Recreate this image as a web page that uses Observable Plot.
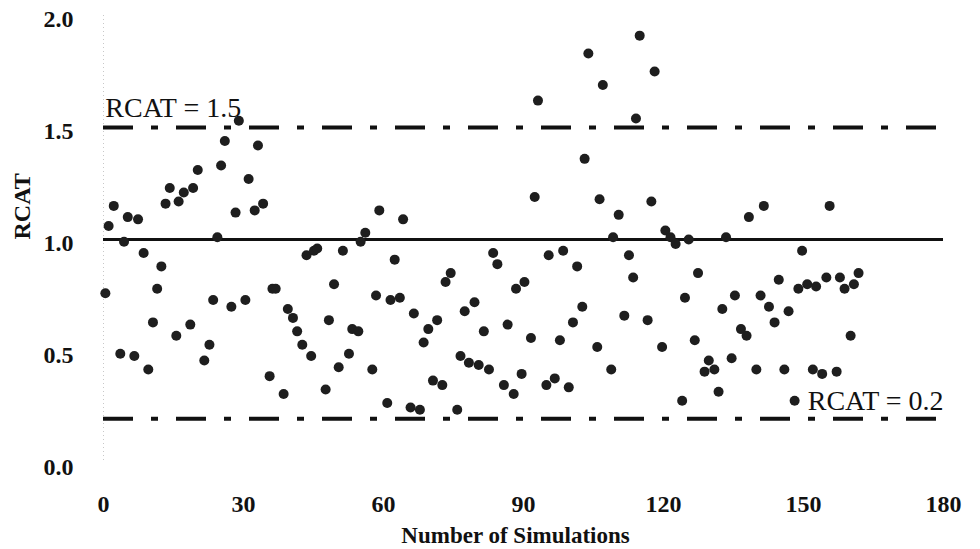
<!DOCTYPE html>
<html>
<head>
<meta charset="utf-8">
<script src="https://cdn.jsdelivr.net/npm/d3@7"></script>
<script src="https://cdn.jsdelivr.net/npm/@observablehq/plot@0.6"></script>
<style>
  html, body { margin: 0; padding: 0; background: #fff; }
  #chart { width: 980px; height: 549px; overflow: hidden; }
</style>
</head>
<body>
<div id="chart"></div>
<script>
// Simulation number (x) and RCAT value (y) for each simulation
const simulation = [
  0.4, 1.1, 2.2, 3.6, 4.4, 5.2, 6.6, 7.4, 8.6, 9.6, 10.6, 11.5, 12.4, 13.3, 14.2, 15.6, 16.1, 17.2, 18.6, 19.2,
  20.2, 21.6, 22.7, 23.5, 24.4, 25.2, 26.0, 27.4, 28.3, 29.0, 30.4, 31.1, 32.4, 33.1, 34.2, 35.6, 36.2, 36.9, 38.6, 39.5,
  40.6, 41.5, 42.6, 43.5, 44.5, 45.1, 45.8, 47.6, 48.3, 49.4, 50.4, 51.3, 52.6, 53.3, 54.6, 55.1, 56.1, 57.6, 58.4, 59.1,
  60.8, 61.5, 62.4, 63.5, 64.2, 65.8, 66.5, 67.8, 68.6, 69.6, 70.6, 71.5, 72.6, 73.3, 74.4, 75.8, 76.5, 77.4, 78.3, 79.5,
  80.4, 81.5, 82.6, 83.5, 84.4, 85.8, 86.6, 87.9, 88.4, 89.6, 90.2, 91.6, 92.4, 93.1, 94.9, 95.4, 96.7, 97.8, 98.5, 99.7,
  100.6, 101.5, 102.6, 103.1, 103.9, 105.8, 106.3, 107.0, 108.8, 109.2, 110.4, 111.6, 112.6, 113.5, 114.1, 114.9, 116.6, 117.4, 118.1, 119.7,
  120.4, 121.5, 122.6, 124.0, 124.6, 125.4, 126.7, 127.4, 128.8, 129.7, 130.9, 131.8, 132.6, 133.4, 134.6, 135.3, 136.6, 137.8, 138.3, 139.9,
  140.8, 141.5, 142.6, 143.8, 144.7, 145.9, 146.8, 148.1, 148.9, 149.7, 150.8, 152.0, 152.7, 154.0, 154.9, 155.6, 157.1, 157.8, 158.8, 160.1,
  160.8, 161.8
];
const rcat = [
  0.76, 1.06, 1.15, 0.49, 0.99, 1.10, 0.48, 1.09, 0.94, 0.42, 0.63, 0.78, 0.88, 1.16, 1.23, 0.57, 1.17, 1.21, 0.62, 1.23,
  1.31, 0.46, 0.53, 0.73, 1.01, 1.33, 1.44, 0.70, 1.12, 1.53, 0.73, 1.27, 1.13, 1.42, 1.16, 0.39, 0.78, 0.78, 0.31, 0.69,
  0.65, 0.59, 0.53, 0.93, 0.48, 0.95, 0.96, 0.33, 0.64, 0.80, 0.43, 0.95, 0.49, 0.60, 0.59, 0.99, 1.03, 0.42, 0.75, 1.13,
  0.27, 0.73, 0.91, 0.74, 1.09, 0.25, 0.67, 0.24, 0.54, 0.60, 0.37, 0.64, 0.35, 0.81, 0.85, 0.24, 0.48, 0.68, 0.45, 0.72,
  0.44, 0.59, 0.42, 0.94, 0.89, 0.35, 0.62, 0.31, 0.78, 0.40, 0.81, 0.56, 1.19, 1.62, 0.35, 0.93, 0.38, 0.55, 0.95, 0.34,
  0.63, 0.88, 0.70, 1.36, 1.83, 0.52, 1.18, 1.69, 0.42, 1.01, 1.11, 0.66, 0.93, 0.83, 1.54, 1.91, 0.64, 1.17, 1.75, 0.52,
  1.04, 1.01, 0.98, 0.28, 0.74, 1.00, 0.55, 0.85, 0.41, 0.46, 0.42, 0.32, 0.69, 1.01, 0.47, 0.75, 0.60, 0.57, 1.10, 0.42,
  0.75, 1.15, 0.70, 0.63, 0.82, 0.42, 0.68, 0.28, 0.78, 0.95, 0.80, 0.42, 0.79, 0.40, 0.83, 1.15, 0.41, 0.83, 0.78, 0.57,
  0.80, 0.85
];

// Axis ticks
const xTicks = [0, 30, 60, 90, 120, 150, 180];
const yTicks = [0.0, 0.5, 1.0, 1.5, 2.0];

// Reference levels
const targetLevel = [1.0];
const limitLevels = [1.5, 0.2];

// Annotation labels
const noteText = ["RCAT = 1.5", "RCAT = 0.2"];
const noteX = [0.4, 150.9];
const noteY = [1.585, 0.277];

const points = simulation.map((s, i) => ({s, r: rcat[i]}));
const notes = noteText.map((t, i) => ({t, x: noteX[i], y: noteY[i]}));

const serif = "'Liberation Serif', 'Times New Roman', Times, serif";

const chart = Plot.plot({
  width: 980,
  height: 549,
  marginTop: 15,
  marginRight: 37,
  marginBottom: 86,
  marginLeft: 103,
  style: {fontFamily: serif, background: "#fff", color: "#111", overflow: "visible"},
  x: {domain: [0, 180]},
  y: {domain: [0, 2]},
  marks: [
    Plot.ruleX([0], {stroke: "#c8c8c8", strokeDasharray: "1,3"}),
    Plot.axisX({ticks: xTicks, tickSize: 0, tickPadding: 31, fontSize: 24, fontWeight: "bold", label: null}),
    Plot.axisY({ticks: yTicks, tickSize: 0, tickPadding: 30, tickFormat: d3.format(".1f"), fontSize: 24, fontWeight: "bold", label: null, dy: 4}),
    Plot.text(["RCAT"], {frameAnchor: "left", dx: -81, rotate: -90, fontSize: 24, fontWeight: "bold", fill: "#111"}),
    Plot.text(["Number of Simulations"], {frameAnchor: "bottom", lineAnchor: "middle", dx: -8, dy: 72, fontSize: 23, fontWeight: "bold", fill: "#111"}),
    Plot.ruleY(limitLevels, {stroke: "#111", strokeWidth: 4, strokeDasharray: "30,18,7,18"}),
    Plot.ruleY(targetLevel, {stroke: "#111", strokeWidth: 3}),
    Plot.dot(points, {x: "s", y: "r", r: 5, fill: "#1e1e1e", stroke: "none"}),
    Plot.text(notes, {x: "x", y: "y", text: "t", textAnchor: "start", fontSize: 28, fill: "#111"})
  ]
});
document.getElementById("chart").appendChild(chart);
</script>
</body>
</html>
